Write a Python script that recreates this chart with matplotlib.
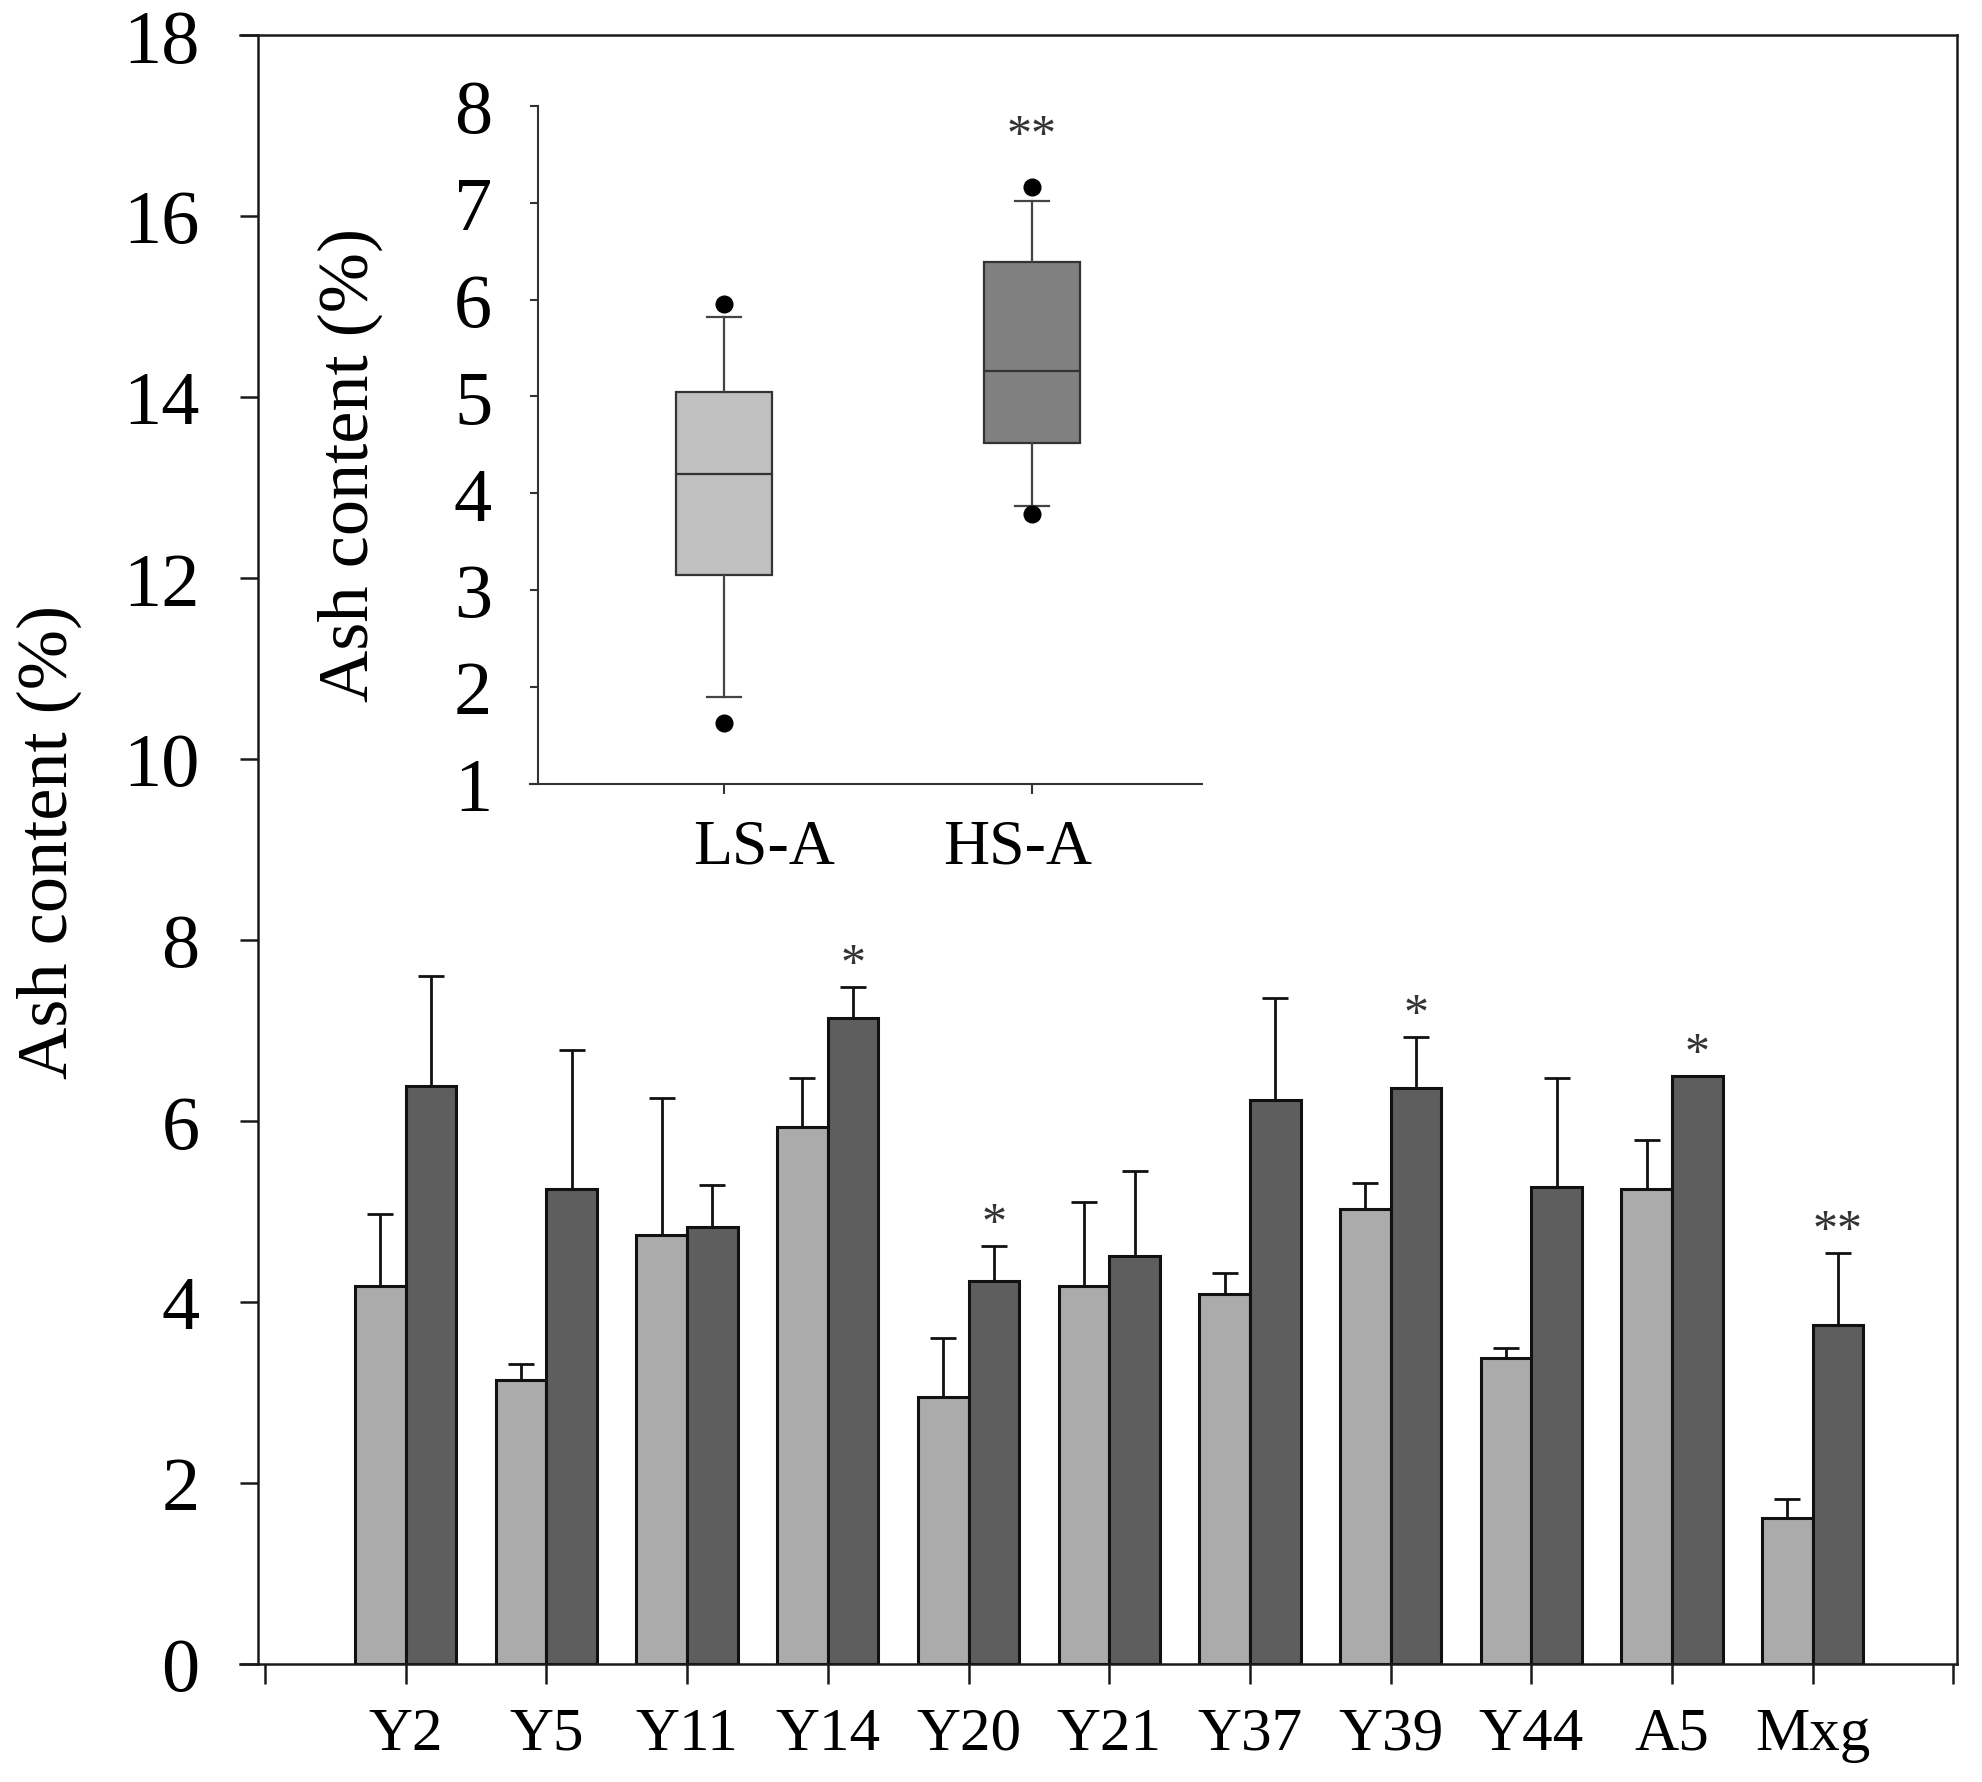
import matplotlib
matplotlib.use('Agg')
import matplotlib.pyplot as plt
import matplotlib.transforms as mtrans
import numpy as np

# ---------------- data ----------------
categories = ['Y2', 'Y5', 'Y11', 'Y14', 'Y20', 'Y21', 'Y37', 'Y39', 'Y44', 'A5', 'Mxg']
ls_mean = [4.18, 3.14, 4.74, 5.93, 2.95, 4.18, 4.09, 5.03, 3.38, 5.25, 1.61]
ls_err = [0.79, 0.17, 1.51, 0.55, 0.65, 0.92, 0.23, 0.29, 0.11, 0.54, 0.21]
hs_mean = [6.39, 5.25, 4.83, 7.14, 4.23, 4.51, 6.23, 6.36, 5.27, 6.50, 3.75]
hs_err = [1.21, 1.53, 0.46, 0.34, 0.39, 0.94, 1.13, 0.57, 1.21, 0.00, 0.79]
signif = ['', '', '', '*', '*', '', '', '*', '', '*', '**']
main_yticks = [0, 2, 4, 6, 8, 10, 12, 14, 16, 18]

inset_groups = ['LS-A', 'HS-A']
box_q1 = [3.15, 4.52]
box_med = [4.20, 5.26]
box_q3 = [5.05, 6.39]
box_whislo = [1.89, 3.87]
box_whishi = [5.82, 7.02]
box_fliers = [[1.63, 5.95], [3.78, 7.16]]
inset_signif = ['', '**']
inset_yticks = [1, 2, 3, 4, 5, 6, 7, 8]

# ---------------- figure ----------------
plt.rcParams['font.family'] = ['Liberation Serif', 'DejaVu Serif']
W, H = 1983, 1783
fig = plt.figure(figsize=(W / 100, H / 100), dpi=100)

ax = fig.add_axes([240 / W, 1 - 1665 / H, 1717 / W, 1629 / H])
x = np.arange(1, len(categories) + 1)
bw = 0.36
ax.bar(x - bw / 2, ls_mean, bw, color='#ababab', edgecolor='#111111', linewidth=2.2, zorder=2)
ax.bar(x + bw / 2, hs_mean, bw, color='#5e5e5e', edgecolor='#111111', linewidth=2.2, zorder=2)
ax.errorbar(x - bw / 2, ls_mean, yerr=[np.zeros(len(x)), ls_err], fmt='none', ecolor='#111111',
            elinewidth=2, capsize=9.5, capthick=2, zorder=1)
ax.errorbar(x + bw / 2, hs_mean, yerr=[np.zeros(len(x)), hs_err], fmt='none', ecolor='#111111',
            elinewidth=2, capsize=9.5, capthick=2, zorder=1)

for i, s in enumerate(signif):
    if s:
        ax.annotate(s, xy=(x[i] + bw / 2, hs_mean[i] + hs_err[i]), xytext=(0, 7),
                    textcoords='offset points', ha='center', va='baseline',
                    fontsize=36, color='#333333')

ax.set_xlim(-0.178, 12.026)
ax.set_ylim(0, 18)
ax.set_xticks(np.arange(0, len(categories) + 2))
ax.set_xticklabels([''] + categories + [''])
ax.set_yticks(main_yticks)
ax.spines['left'].set_position(('data', -0.05))
for sp in ax.spines.values():
    sp.set_linewidth(1.8)
    sp.set_color('#1a1a1a')
ax.tick_params(axis='y', direction='out', length=13, width=1.8, pad=29, labelsize=55, color='#1a1a1a')
ax.tick_params(axis='x', direction='out', length=14.5, width=1.8, pad=16, labelsize=44, color='#1a1a1a')
ax.set_ylabel('Ash content (%)', fontsize=52)
ax.yaxis.set_label_coords(-0.092, 0.505)

# ---------------- inset ----------------
axi = fig.add_axes([530 / W, 1 - 784.5 / H, 672 / W, 677.5 / H])
axi.patch.set_alpha(0)
stats = []
for k in range(len(inset_groups)):
    stats.append(dict(med=box_med[k], q1=box_q1[k], q3=box_q3[k], whislo=box_whislo[k],
                      whishi=box_whishi[k], fliers=box_fliers[k], label=inset_groups[k]))
bp = axi.bxp(stats, positions=[1, 2], widths=0.31, capwidths=0.11, patch_artist=True,
             boxprops=dict(edgecolor='#333333', linewidth=1.6),
             medianprops=dict(color='#333333', linewidth=1.6),
             whiskerprops=dict(color='#444444', linewidth=1.6),
             capprops=dict(color='#444444', linewidth=1.6),
             flierprops=dict(marker='o', markerfacecolor='black', markeredgecolor='black', markersize=12))
for patch, fc in zip(bp['boxes'], ['#c0c0c0', '#808080']):
    patch.set_facecolor(fc)

for k, s in enumerate(inset_signif):
    if s:
        axi.annotate(s, xy=(k + 1, max(box_fliers[k])), xytext=(0, 28), textcoords='offset points',
                     ha='center', va='baseline', fontsize=36, color='#333333')

axi.set_xlim(0.37, 2.552)
axi.set_ylim(1, 8)
axi.set_yticks(inset_yticks)
axi.set_xticks([1, 2])
axi.set_xticklabels(inset_groups)
axi.spines['top'].set_visible(False)
axi.spines['right'].set_visible(False)
axi.spines['left'].set_position(('data', 0.396))
for sp in ['left', 'bottom']:
    axi.spines[sp].set_linewidth(1.5)
    axi.spines[sp].set_color('#333333')
axi.tick_params(axis='y', direction='out', length=6, width=1.5, pad=27, labelsize=55, color='#333333')
axi.tick_params(axis='x', direction='out', length=7.5, width=1.5, pad=18, labelsize=46, color='#333333')
for lbl, dx in zip(axi.get_xticklabels(), [40, -14]):
    lbl.set_transform(lbl.get_transform() + mtrans.ScaledTranslation(dx / 100, 0, fig.dpi_scale_trans))
axi.set_ylabel('Ash content (%)', fontsize=52)
axi.yaxis.set_label_coords(-0.219, 0.472)

fig.savefig('out.png', dpi=100)
